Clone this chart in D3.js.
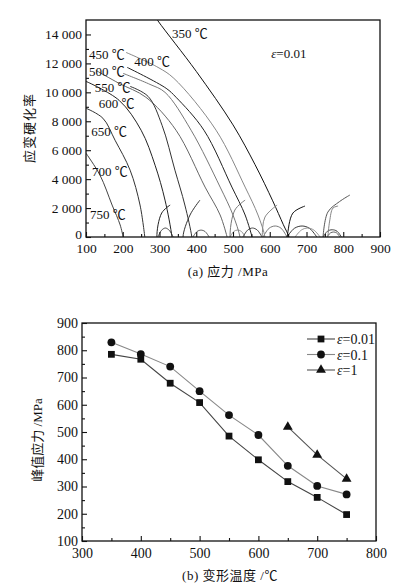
<!DOCTYPE html>
<html>
<head>
<meta charset="utf-8">
<script src="https://cdn.jsdelivr.net/npm/d3@7"></script>
<style>
  body { margin: 0; background: #fff; }
  svg text { font-family: "Liberation Serif", "Times New Roman", serif; fill: #111; }
  .cjk { font-family: "Liberation Serif", "Noto Sans CJK SC", serif; }
</style>
</head>
<body>
<div id="chart"></div>
<script>
/* ---------- (a) strain hardening rate vs stress ---------- */
// [stress MPa, hardening rate], tails below 0 are clipped away
const temps = [350, 400, 450, 500, 550, 600, 650, 700, 750];
const rate350 = [[270, 15900], [295, 14966], [400, 11450], [500, 7750], [560, 5000], [608, 2500], [637, 850], [652, 0], [654, -700], [642, -600], [647, 0], [663, 1655], [696, 2140]];
const rate400 = [[209, 12760], [296, 11725], [339, 10970], [454, 7380], [533, 3450], [568, 1520], [587, 0], [589, -700], [576, -600], [579, 0], [587, 1380], [620, 2210]];
const rate450 = [[212, 11725], [318, 10280], [345, 9660], [421, 7380], [497, 3450], [533, 1520], [552, 0]];
const rate500 = [[201, 11310], [274, 10550], [315, 10000], [386, 7380], [465, 3450], [500, 1520], [519, 0], [521, -700], [498, -600], [492, 0], [505, 1860], [533, 2550]];
const rate550 = [[127, 11520], [190, 10620], [263, 9660], [345, 7380], [424, 3450], [465, 1520], [484, 0]];
const rate600 = [[220, 10410], [269, 9720], [307, 7720], [342, 4620], [369, 2210], [388, 0], [390, -700], [370, -600], [364, 0], [383, 1520], [410, 2550]];
const rate650 = [[100, 10760], [190, 9450], [250, 7380], [288, 4960], [315, 2550], [334, 0], [336, -700], [300, -600], [293, 0], [306, 1660], [329, 2210]];
const rate700 = [[100, 8900], [146, 8210], [179, 6690], [220, 4620], [247, 2210], [260, 0]];
const rate750 = [[100, 5790], [138, 4280], [171, 2210], [193, 830], [201, 0]];
const rates = [rate350, rate400, rate450, rate500, rate550, rate600, rate650, rate700, rate750];

// small arcs and rising tails near the zero line
const baseArcs = [
    [[296, 0], [305, 450], [316, 620], [327, 450], [337, 0]],
    [[391, 0], [402, 380], [413, 480], [424, 380], [435, 0]],
    [[492, 0], [502, 380], [512, 480], [523, 380], [533, 0]],
    [[527, 0], [540, 480], [553, 620], [566, 480], [579, 0]],
    [[582, 0], [598, 600], [615, 760], [631, 600], [647, 0]],
    [[647, 0], [667, 600], [688, 760], [708, 600], [728, 0]],
    [[669, 0], [686, 480], [703, 620], [720, 480], [737, 0]],
    [[745, 0], [757, 400], [770, 500], [783, 400], [795, 0]],
    [[756, 0], [765, 280], [774, 345], [782, 280], [791, 0]],
    [[745, 0], [758, 1720], [790, 2450], [818, 2900]],
    [[758, 0], [763, 1100], [772, 2000], [786, 2140]]
];

const xTicksA = [100, 200, 300, 400, 500, 600, 700, 800, 900];
const yTicksA = [0, 2000, 4000, 6000, 8000, 10000, 12000, 14000];

/* ---------- (b) peak stress vs deformation temperature ---------- */
const defTemp = [350, 400, 450, 500, 550, 600, 650, 700, 750];
const peak001 = [785, 767, 679, 608, 485, 398, 318, 260, 197];
const peak01 = [829, 786, 740, 650, 562, 489, 376, 302, 271];
const defTemp1 = [650, 700, 750];
const peak1 = [519, 416, 328];
const strainNames = ["0.01", "0.1", "1"];

const xTicksB = [300, 400, 500, 600, 700, 800];
const yTicksB = [100, 200, 300, 400, 500, 600, 700, 800, 900];


const svg = d3.select("#chart").append("svg")
    .attr("width", 395)
    .attr("height", 588);

function drawFrame(g, w, h) {
    g.append("rect")
        .attr("width", w).attr("height", h)
        .attr("fill", "none")
        .attr("stroke", "#111")
        .attr("stroke-width", 1.3);
}

function styleAxis(sel) {
    sel.select(".domain").remove();
    sel.selectAll(".tick line").attr("stroke", "#111").attr("stroke-width", 1.1);
}

/* ===== chart (a) ===== */
let ma = { left: 86, top: 20, width: 294, height: 217 };
let ga = svg.append("g").attr("transform", `translate(${ma.left},${ma.top})`);

let xa = d3.scaleLinear().domain([100, 900]).range([0, ma.width]);
let ya = d3.scaleLinear().domain([0, 15000]).range([ma.height, 0]);

ga.append("clipPath").attr("id", "clipA")
    .append("rect").attr("width", ma.width).attr("height", ma.height);

let lineA = d3.line()
    .x(d => xa(d[0]))
    .y(d => ya(d[1]))
    .curve(d3.curveCatmullRom.alpha(0.5));

let curveColors = ["#111", "#888", "#222", "#777", "#666", "#333", "#222", "#333", "#444"];
let arcColors = ["#333", "#555", "#888", "#333", "#666", "#222", "#888", "#333", "#555", "#444", "#777"];

let plotA = ga.append("g").attr("clip-path", "url(#clipA)");

plotA.selectAll(".arc")
    .data(baseArcs)
    .join("path")
    .attr("class", "arc")
    .attr("d", lineA)
    .attr("fill", "none")
    .attr("stroke", (d, i) => arcColors[i])
    .attr("stroke-width", 0.9);

plotA.selectAll(".rate")
    .data(rates)
    .join("path")
    .attr("class", "rate")
    .attr("d", lineA)
    .attr("fill", "none")
    .attr("stroke", (d, i) => curveColors[i])
    .attr("stroke-width", 1);

// axes, ticks pointing inwards
ga.append("g")
    .attr("transform", `translate(0,${ma.height})`)
    .call(d3.axisBottom(xa).tickValues(xTicksA).tickSize(-5).tickPadding(6).tickFormat(d3.format("d")))
    .call(styleAxis)
    .selectAll("text").attr("font-size", 13.5);

ga.append("g")
    .attr("transform", `translate(0,${ma.height})`)
    .call(d3.axisBottom(xa).tickValues(d3.range(150, 900, 100)).tickSize(-3).tickFormat(""))
    .call(styleAxis);

ga.append("g")
    .call(d3.axisLeft(ya).tickValues(yTicksA).tickSize(-5).tickPadding(4)
        .tickFormat(d => d3.format(",")(d).replace(",", " ")))
    .call(styleAxis)
    .selectAll("text")
    .attr("font-size", 13.5)
    .attr("dy", d => d === 0 ? "0.1em" : "0.32em");

ga.append("g")
    .call(d3.axisLeft(ya).tickValues(d3.range(1000, 15000, 2000)).tickSize(-3).tickFormat(""))
    .call(styleAxis);

drawFrame(ga, ma.width, ma.height);

// temperature labels (stress, rate of text start)
let labelPosA = [[334, 13725], [231, 11794], [108, 12277], [108, 11100], [124, 10000], [135, 8900], [114, 6960], [116, 4200], [111, 1240]];
ga.selectAll(".tlabel")
    .data(temps)
    .join("text")
    .attr("class", "tlabel cjk")
    .attr("x", (d, i) => xa(labelPosA[i][0]))
    .attr("y", (d, i) => ya(labelPosA[i][1]))
    .attr("font-size", 13)
    .text(d => d + " ℃");

let epsA = ga.append("text")
    .attr("x", xa(604))
    .attr("y", ya(12350))
    .attr("font-size", 13);
epsA.append("tspan").attr("font-style", "italic").text("ε");
epsA.append("tspan").text("=0.01");

svg.append("text")
    .attr("class", "cjk")
    .attr("transform", "translate(34,128) rotate(-90)")
    .attr("text-anchor", "middle")
    .attr("font-size", 13)
    .attr("letter-spacing", 1)
    .text("应变硬化率");

svg.append("text")
    .attr("class", "cjk")
    .attr("x", 228)
    .attr("y", 276)
    .attr("text-anchor", "middle")
    .attr("font-size", 13)
    .attr("letter-spacing", 0.5)
    .text("(a) 应力 /MPa");

/* ===== chart (b) ===== */
let mb = { left: 82, top: 323, width: 294, height: 218 };
let gb = svg.append("g").attr("transform", `translate(${mb.left},${mb.top})`);

let xb = d3.scaleLinear().domain([300, 800]).range([0, mb.width]);
let yb = d3.scaleLinear().domain([100, 900]).range([mb.height, 0]);

gb.append("g")
    .attr("transform", `translate(0,${mb.height})`)
    .call(d3.axisBottom(xb).tickValues(xTicksB).tickSize(-5).tickPadding(7).tickFormat(d3.format("d")))
    .call(styleAxis)
    .selectAll("text").attr("font-size", 14);

gb.append("g")
    .attr("transform", `translate(0,${mb.height})`)
    .call(d3.axisBottom(xb).tickValues(d3.range(350, 800, 100)).tickSize(-3).tickFormat(""))
    .call(styleAxis);

gb.append("g")
    .call(d3.axisLeft(yb).tickValues(yTicksB).tickSize(-5).tickPadding(4).tickFormat(d3.format("d")))
    .call(styleAxis)
    .selectAll("text").attr("font-size", 14);

gb.append("g")
    .call(d3.axisLeft(yb).tickValues(d3.range(150, 900, 100)).tickSize(-3).tickFormat(""))
    .call(styleAxis);

drawFrame(gb, mb.width, mb.height);

let seriesB = [
    { name: strainNames[0], x: defTemp, y: peak001, sym: d3.symbolSquare, size: 46, color: "#444" },
    { name: strainNames[1], x: defTemp, y: peak01, sym: d3.symbolCircle, size: 48, color: "#888" },
    { name: strainNames[2], x: defTemp1, y: peak1, sym: d3.symbolTriangle, size: 42, color: "#555" }
];

let lineB = d3.line()
    .x(d => xb(d[0]))
    .y(d => yb(d[1]));

seriesB.forEach(s => {
    let pts = s.x.map((t, i) => [t, s.y[i]]);
    gb.append("path")
        .datum(pts)
        .attr("d", lineB)
        .attr("fill", "none")
        .attr("stroke", s.color)
        .attr("stroke-width", 1.1);
    gb.selectAll(null)
        .data(pts)
        .join("path")
        .attr("transform", d => `translate(${xb(d[0])},${yb(d[1])})`)
        .attr("d", d3.symbol(s.sym, s.size))
        .attr("fill", "#111");
});

// legend
let legend = gb.append("g").attr("transform", "translate(225,16)");
seriesB.forEach((s, i) => {
    let row = legend.append("g").attr("transform", `translate(0,${i * 15.5})`);
    row.append("line")
        .attr("x1", 0).attr("x2", 28)
        .attr("stroke", s.color).attr("stroke-width", 1.1);
    row.append("path")
        .attr("transform", "translate(14,0)")
        .attr("d", d3.symbol(s.sym, s.size))
        .attr("fill", "#111");
    let t = row.append("text")
        .attr("x", 30)
        .attr("y", 5)
        .attr("font-size", 14);
    t.append("tspan").attr("font-style", "italic").text("ε");
    t.append("tspan").text("=" + s.name);
});

svg.append("text")
    .attr("class", "cjk")
    .attr("transform", "translate(42,440) rotate(-90)")
    .attr("text-anchor", "middle")
    .attr("font-size", 13)
    .text("峰值应力 /MPa");

svg.append("text")
    .attr("class", "cjk")
    .attr("x", 230)
    .attr("y", 580)
    .attr("text-anchor", "middle")
    .attr("font-size", 13)
    .attr("letter-spacing", 0.5)
    .text("(b) 变形温度 /℃");
</script>
</body>
</html>
